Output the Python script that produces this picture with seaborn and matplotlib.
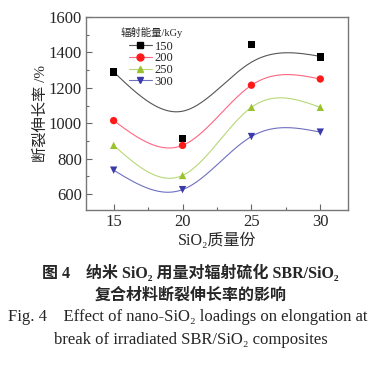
import numpy as np
import pandas as pd
import seaborn as sns
import matplotlib.pyplot as plt
from matplotlib.lines import Line2D
from matplotlib.ticker import MultipleLocator

sns.set_style('ticks')
plt.rcParams['font.family'] = ['Liberation Serif', 'Noto Sans CJK SC', 'DejaVu Serif']

# 数据
sio2 = [15, 20, 25, 30]
doses = ['150', '200', '250', '300']
elong_150 = [1290, 915, 1445, 1375]
elong_200 = [1015, 875, 1215, 1250]
elong_250 = [875, 705, 1090, 1090]
elong_300 = [735, 625, 925, 950]
# 150 kGy 的拟合曲线并不经过中间两点, 单独给出曲线节点
fit_150 = [1290, 1068, 1345, 1378]

colors = ['#000000', '#ff1a1a', '#99c22e', '#3a3aa8']
line_colors = ['#555555', '#ff6680', '#b8d878', '#6f6fc0']
markers = ['s', 'o', '^', 'v']


def natural_spline(x, y, n=200):
    x = np.asarray(x, float)
    y = np.asarray(y, float)
    h = np.diff(x)
    k = len(x)
    A = np.zeros((k, k))
    b = np.zeros(k)
    A[0, 0] = A[-1, -1] = 1
    for i in range(1, k - 1):
        A[i, i - 1] = h[i - 1]
        A[i, i] = 2 * (h[i - 1] + h[i])
        A[i, i + 1] = h[i]
        b[i] = 6 * ((y[i + 1] - y[i]) / h[i] - (y[i] - y[i - 1]) / h[i - 1])
    M = np.linalg.solve(A, b)
    xs = np.linspace(x[0], x[-1], n)
    ys = np.empty_like(xs)
    for j, xv in enumerate(xs):
        i = min(np.searchsorted(x, xv, side='right') - 1, k - 2)
        t1 = x[i + 1] - xv
        t0 = xv - x[i]
        ys[j] = (M[i] * t1 ** 3 + M[i + 1] * t0 ** 3) / (6 * h[i]) \
            + (y[i] / h[i] - M[i] * h[i] / 6) * t1 \
            + (y[i + 1] / h[i] - M[i + 1] * h[i] / 6) * t0
    return xs, ys


points = pd.DataFrame({
    'x': sio2 * 4,
    'y': elong_150 + elong_200 + elong_250 + elong_300,
    'dose': [d for d in doses for _ in sio2],
})

curves = []
for d, vals in zip(doses, [fit_150, elong_200, elong_250, elong_300]):
    xs, ys = natural_spline(sio2, vals)
    curves.append(pd.DataFrame({'x': xs, 'y': ys, 'dose': d}))
curves = pd.concat(curves)

fig = plt.figure(figsize=(3.81, 3.71), dpi=100)
ax = fig.add_axes([0.226, 0.434, 0.687, 0.520])

sns.lineplot(data=curves, x='x', y='y', hue='dose', palette=line_colors,
             linewidth=0.8, legend=False, ax=ax, sort=False)
sns.scatterplot(data=points, x='x', y='y', hue='dose', style='dose',
                palette=colors, markers=markers, s=28, edgecolor='none',
                legend=False, ax=ax, zorder=3)

ax.set_xlim(13, 32)
ax.set_ylim(510, 1600)
ax.set_xticks(sio2)
ax.xaxis.set_minor_locator(MultipleLocator(2.5))
ax.set_yticks(range(600, 1601, 200))
ax.yaxis.set_minor_locator(MultipleLocator(100))
ax.tick_params(direction='in', which='major', length=4, width=0.8, color='#666666',
               labelsize=12, pad=3)
ax.tick_params(direction='in', which='minor', length=2, width=0.8, color='#666666')
for s in ax.spines.values():
    s.set_color('#777777')
    s.set_linewidth(1.0)

ax.set_xlabel('SiO₂质量份', fontsize=11.5, labelpad=2)
ax.set_ylabel('断裂伸长率 /%', fontsize=11, labelpad=1)

handles = [Line2D([0], [0], color=lc, marker=m, markerfacecolor=c, markeredgecolor=c,
                  markersize=5, linewidth=0.8)
           for lc, c, m in zip(line_colors, colors, markers)]
leg = ax.legend(handles, doses, title='辐射能量/kGy', loc='upper left',
                bbox_to_anchor=(0.13, 0.95), frameon=False, fontsize=9,
                title_fontsize=7.5, handlelength=1.8, handletextpad=0.25,
                labelspacing=-0.02, borderaxespad=0, borderpad=0)
leg._legend_box.sep = 2

# 图题
fig.text(0.5, 0.264, '图 4    纳米 SiO₂ 用量对辐射硫化 SBR/SiO₂', ha='center', va='center',
         fontsize=11.5, fontweight='bold')
fig.text(0.5, 0.202, '复合材料断裂伸长率的影响', ha='center', va='center',
         fontsize=11.5, fontweight='bold')
fig.text(0.493, 0.146, 'Fig. 4    Effect of nano-SiO₂ loadings on elongation at',
         ha='center', va='center', fontsize=12)
fig.text(0.5, 0.084, 'break of irradiated SBR/SiO₂ composites',
         ha='center', va='center', fontsize=12)

fig.savefig('out.png', dpi=100)
